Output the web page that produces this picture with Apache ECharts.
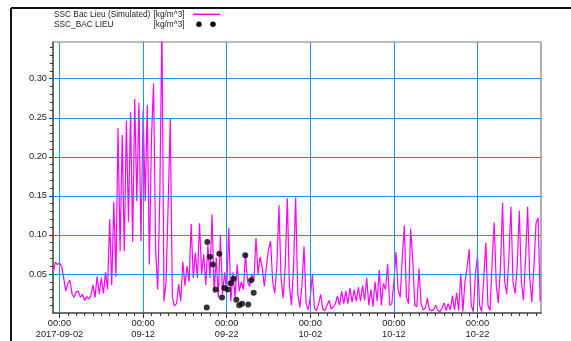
<!DOCTYPE html>
<html>
<head>
<meta charset="utf-8">
<script src="https://cdn.jsdelivr.net/npm/echarts@6/dist/echarts.min.js"></script>
<style>
html, body { margin: 0; padding: 0; background: #fff; }
#chart { width: 571px; height: 341px; }
</style>
</head>
<body>
<div id="chart"></div>
<script>
// simulated SSC [kg/m^3], one value every 6 hours from 2017-09-01 06:00
var simStart = '2017-09-01 06:00';
var simStepHours = 6;
var simValues = [
    0.052, 0.065, 0.062,            // 09-01
    0.064, 0.060, 0.045, 0.028,     // 09-02
    0.038, 0.042, 0.024, 0.020,
    0.027, 0.028, 0.020, 0.024,
    0.016, 0.021, 0.018, 0.022,
    0.036, 0.020, 0.047, 0.024,
    0.045, 0.025, 0.052, 0.030,
    0.120, 0.036, 0.142, 0.046,     // 09-08
    0.237, 0.079, 0.228, 0.079,
    0.246, 0.117, 0.257, 0.091,
    0.274, 0.143, 0.269, 0.092,
    0.260, 0.143, 0.266, 0.062,     // 09-12
    0.223, 0.294, 0.080, 0.030,
    0.150, 0.370, 0.015, 0.040,
    0.140, 0.249, 0.020, 0.009,
    0.012, 0.037, 0.015, 0.066,     // 09-16
    0.035, 0.060, 0.040, 0.114,
    0.045, 0.077, 0.045, 0.115,
    0.050, 0.075, 0.036, 0.087,
    0.045, 0.126, 0.026, 0.071,     // 09-20
    0.020, 0.100, 0.024, 0.052,
    0.028, 0.109, 0.015, 0.052,
    0.020, 0.062, 0.028, 0.040,
    0.030, 0.076, 0.040, 0.034,     // 09-24
    0.050, 0.040, 0.096, 0.050,
    0.072, 0.058, 0.034, 0.060,
    0.081, 0.092, 0.040, 0.025,
    0.060, 0.138, 0.045, 0.019,     // 09-28
    0.060, 0.147, 0.035, 0.010,
    0.060, 0.148, 0.025, 0.007,
    0.035, 0.085, 0.012, 0.004,
    0.020, 0.049, 0.006, 0.003,     // 10-02
    0.012, 0.024, 0.005, 0.003,
    0.010, 0.016, 0.005, 0.008,
    0.012, 0.022, 0.010, 0.028,
    0.012, 0.028, 0.012, 0.032,     // 10-06
    0.014, 0.030, 0.015, 0.033,
    0.015, 0.035, 0.016, 0.045,
    0.010, 0.030, 0.008, 0.040,
    0.015, 0.055, 0.010, 0.038,     // 10-10
    0.030, 0.063, 0.010, 0.012,
    0.040, 0.078, 0.030, 0.020,
    0.070, 0.112, 0.020, 0.012,
    0.108, 0.070, 0.010, 0.008,     // 10-14
    0.057, 0.012, 0.004, 0.006,
    0.019, 0.004, 0.003, 0.004,
    0.010, 0.003, 0.002, 0.006,
    0.013, 0.003, 0.012, 0.004,     // 10-18
    0.022, 0.004, 0.026, 0.003,
    0.050, 0.002, 0.040, 0.058,
    0.082, 0.010, 0.002, 0.050,
    0.073, 0.010, 0.002, 0.045,     // 10-22
    0.090, 0.010, 0.003, 0.065,
    0.116, 0.035, 0.013, 0.060,
    0.141, 0.040, 0.024, 0.070,
    0.136, 0.040, 0.025, 0.060,     // 10-26
    0.131, 0.040, 0.016, 0.070,
    0.136, 0.045, 0.014, 0.060,
    0.115, 0.122, 0.015              // 10-29
];

// measured SSC_BAC LIEU
var obsTimes = [
    '2017-09-19 14:40', '2017-09-19 16:20', '2017-09-20 00:00', '2017-09-20 08:00',
    '2017-09-20 16:20', '2017-09-21 02:40', '2017-09-21 10:30', '2017-09-21 17:00',
    '2017-09-22 03:00', '2017-09-22 11:30', '2017-09-22 20:00', '2017-09-23 03:40',
    '2017-09-23 12:00', '2017-09-23 20:00', '2017-09-24 05:20', '2017-09-24 14:00',
    '2017-09-24 22:00', '2017-09-25 05:30'
];
var obsValues = [
    0.007, 0.091, 0.072, 0.062,
    0.030, 0.076, 0.020, 0.032,
    0.030, 0.038, 0.044, 0.017,
    0.010, 0.012, 0.074, 0.011,
    0.042, 0.026
];

var xTickTimes = ['2017-09-02 00:00', '2017-09-12 00:00', '2017-09-22 00:00',
                  '2017-10-02 00:00', '2017-10-12 00:00', '2017-10-22 00:00'];
var xTickLabels = ['00:00\n2017-09-02', '00:00\n09-12', '00:00\n09-22',
                   '00:00\n10-02', '00:00\n10-12', '00:00\n10-22'];
var yTicks = [0.05, 0.10, 0.15, 0.20, 0.25, 0.30];
var yTickLabels = ['0.05', '0.10', '0.15', '0.20', '0.25', '0.30'];

var xMinTime = '2017-09-01 05:20';
var xMaxTime = '2017-10-29 14:20';
var yMax = 0.347;

function toMs(s) {
    var p = s.split(/[- :]/).map(Number);
    return Date.UTC(p[0], p[1] - 1, p[2], p[3], p[4]);
}

var HOUR = 3600 * 1000;
var t0 = toMs(simStart);
var simData = simValues.map(function (v, i) { return [t0 + i * simStepHours * HOUR, v]; });
var obsData = obsTimes.map(function (t, i) { return [toMs(t), obsValues[i]]; });

var xMin = toMs(xMinTime), xMax = toMs(xMaxTime);
var xMajor = xTickTimes.map(toMs);
var xMinor = [];
for (var d = toMs('2017-09-02 00:00'); d <= xMax; d += 24 * HOUR) xMinor.push(d);
var yMinor = [];
for (var k = 1; k <= 34; k++) yMinor.push(k / 100);

// blue grid drawn over the curve, as in the original plot
var gridLines = xMajor.map(function (v) { return { xAxis: v }; })
    .concat(yTicks.map(function (v) { return { yAxis: v }; }));

var font = '"Liberation Sans", Arial, sans-serif';
var gridBlue = '#1f8fff';

var chart = echarts.init(document.getElementById('chart'), null, { renderer: 'canvas' });

chart.setOption({
    animation: false,
    backgroundColor: '#fff',
    grid: {
        left: 53, right: 30, top: 42, bottom: 28,
        show: true, borderColor: '#7a7a7a', borderWidth: 1.2
    },
    xAxis: [{
        type: 'value', min: xMin, max: xMax, position: 'bottom',
        axisLine: { show: true, lineStyle: { color: '#555', width: 1.5 } },
        axisTick: { show: true, customValues: xMajor, length: 5, lineStyle: { color: '#333' } },
        axisLabel: {
            customValues: xMajor, margin: 5, fontSize: 9.3, lineHeight: 11,
            color: '#222', fontFamily: font,
            formatter: function (v) { return xTickLabels[xMajor.indexOf(v)]; }
        },
        splitLine: { show: false }
    }, {
        type: 'value', min: xMin, max: xMax, position: 'bottom',
        axisLine: { show: false },
        axisTick: { show: true, customValues: xMinor, length: 3, lineStyle: { color: '#333' } },
        axisLabel: { show: false },
        splitLine: { show: false }
    }],
    yAxis: [{
        type: 'value', min: 0, max: yMax, position: 'left',
        axisLine: { show: true, lineStyle: { color: '#555', width: 1.5 } },
        axisTick: { show: true, customValues: yTicks, length: 4, lineStyle: { color: '#333' } },
        axisLabel: {
            customValues: yTicks, margin: 6, fontSize: 9.3, color: '#222', fontFamily: font,
            formatter: function (v) { return yTickLabels[yTicks.indexOf(v)]; }
        },
        splitLine: { show: false }
    }, {
        type: 'value', min: 0, max: yMax, position: 'left',
        axisLine: { show: false },
        axisTick: { show: true, customValues: yMinor, length: 3, lineStyle: { color: '#333' } },
        axisLabel: { show: false },
        splitLine: { show: false }
    }],
    series: [{
        name: 'SSC Bac Lieu (Simulated)',
        type: 'line',
        xAxisIndex: 0, yAxisIndex: 0,
        data: simData,
        showSymbol: false,
        lineStyle: { color: '#ff00ff', width: 1.2 },
        clip: true,
        markLine: {
            silent: true,
            symbol: 'none',
            animation: false,
            label: { show: false },
            lineStyle: { color: gridBlue, width: 1, type: 'solid' },
            emphasis: { disabled: true },
            data: gridLines
        }
    }, {
        name: 'SSC_BAC LIEU',
        type: 'scatter',
        xAxisIndex: 0, yAxisIndex: 0,
        data: obsData,
        symbol: 'circle',
        symbolSize: 6,
        itemStyle: { color: '#000' },
        z: 10
    }],
    graphic: [
        { type: 'line', shape: { x1: 11, y1: 8, x2: 571, y2: 8 }, style: { stroke: '#111', lineWidth: 2 } },
        { type: 'line', shape: { x1: 11, y1: 8, x2: 11, y2: 341 }, style: { stroke: '#111', lineWidth: 2 } },
        { type: 'text', x: 54, y: 14.3, style: { text: 'SSC Bac Lieu (Simulated)', fill: '#222', font: '8.3px ' + font, verticalAlign: 'middle' } },
        { type: 'text', x: 153.5, y: 14.3, style: { text: '[kg/m^3]', fill: '#222', font: '8.3px ' + font, verticalAlign: 'middle' } },
        { type: 'line', shape: { x1: 193, y1: 14.3, x2: 220, y2: 14.3 }, style: { stroke: '#ff00ff', lineWidth: 1.5 } },
        { type: 'text', x: 54, y: 24.3, style: { text: 'SSC_BAC LIEU', fill: '#222', font: '8.3px ' + font, verticalAlign: 'middle' } },
        { type: 'text', x: 153.5, y: 24.3, style: { text: '[kg/m^3]', fill: '#222', font: '8.3px ' + font, verticalAlign: 'middle' } },
        { type: 'circle', shape: { cx: 199, cy: 24.3, r: 2.7 }, style: { fill: '#000' } },
        { type: 'circle', shape: { cx: 213, cy: 24.3, r: 2.7 }, style: { fill: '#000' } }
    ]
});
</script>
</body>
</html>
